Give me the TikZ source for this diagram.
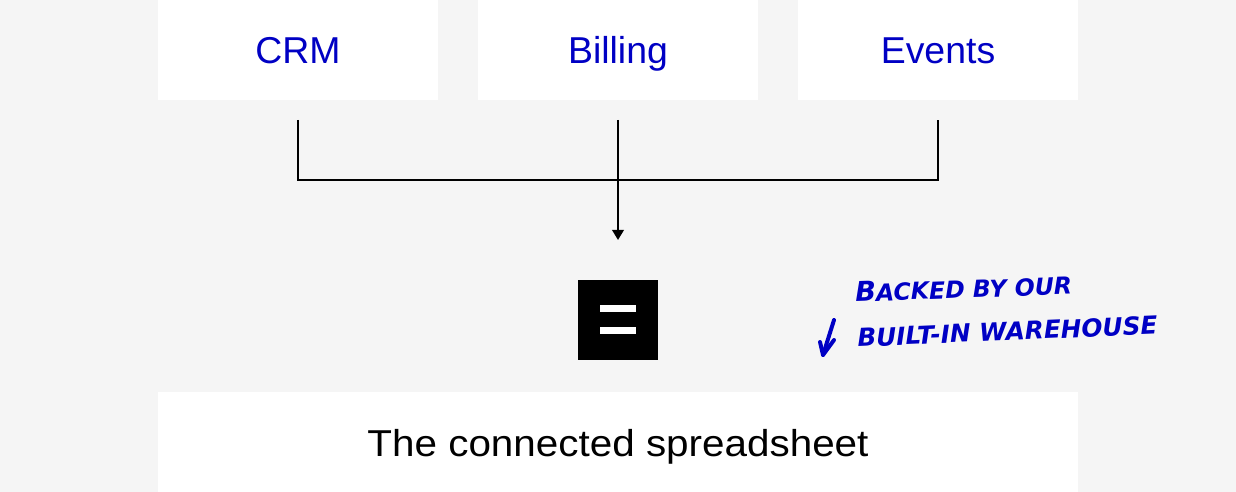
\documentclass[tikz,border=0pt]{standalone}
\usepackage{fontspec}
\usetikzlibrary{arrows.meta}
\setmainfont{Liberation Sans}
\newfontfamily\widefont{Liberation Sans}[FakeStretch=1.08]
\newfontfamily\handfont{DejaVu Sans}
\definecolor{pagegray}{HTML}{F5F5F5}
\definecolor{inkblue}{HTML}{0000C4}
\tikzset{
    sourcebox/.style={fill=white,text=inkblue,minimum width=5.6cm,minimum height=2cm,inner sep=0pt,text height=15pt,text depth=0pt,font=\fontsize{21.3}{24}\selectfont},
    handnote/.style={text=inkblue,inner sep=0pt,anchor=west,font=\handfont\bfseries\itshape\fontsize{14.1}{15}\selectfont}
}
\begin{document}
\begin{tikzpicture}[x=0.02cm,y=-0.02cm]
    \fill [pagegray] (0,0) rectangle (1236,492);
    \useasboundingbox (0,0) rectangle (1236,492);
    \node [sourcebox] (crm) at (298,50) {CRM};
    \node [sourcebox] (billing) at (618,50) {Billing};
    \node [sourcebox] (events) at (938,50) {Events};
    \node [fill=white,minimum width=18.4cm,minimum height=2cm,inner sep=0pt,text height=16pt,text depth=0pt,font=\widefont\fontsize{21.3}{24}\selectfont] (sheet) at (618,442) {The connected spreadsheet};
    \node [fill=black,minimum size=1.6cm,inner sep=0pt] (logo) at (618,320) {};
    \fill [white] (600,305) rectangle (636,312.5);
    \fill [white] (600,327) rectangle (636,334.5);
    \coordinate (crmout) at (298,120);
    \coordinate (billingout) at (618,120);
    \coordinate (eventsout) at (938,120);
    \coordinate (tip) at (618,240);
    \draw [line width=2pt*0.567] (crmout) |- (eventsout |- 0,180) -- (eventsout);
    \draw [line width=2pt*0.567,-{Triangle[length=0.2cm,width=0.23cm]}] (billingout) -- (tip);
    \node [handnote,rotate=2] (noteone) at (855,292) {\fontsize{15.5}{15}\selectfont B\fontsize{13.4}{15}\selectfont ACKED BY OUR};
    \node [handnote,rotate=2.5] (notetwo) at (857,338) {BUILT-IN WAREHOUSE};
    \coordinate (notefrom) at (834,320);
    \coordinate (noteto) at (823,355);
    \draw [inkblue,line width=4pt*0.567,line cap=round,line join=round] (notefrom) -- (noteto);
    \draw [inkblue,line width=4pt*0.567,line cap=round,line join=round] (820,342) -- (noteto) -- (834,340);
\end{tikzpicture}
\end{document}
